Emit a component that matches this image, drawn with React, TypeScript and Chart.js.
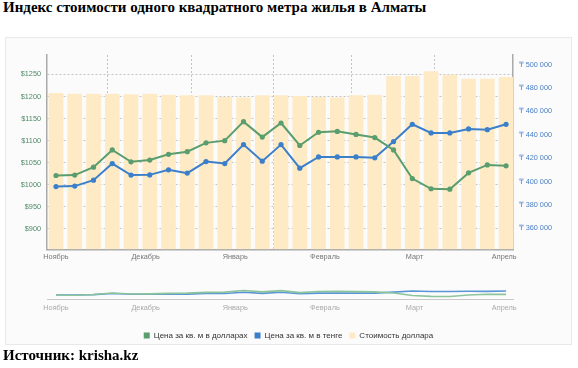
import React, { useEffect, useRef } from "react";
import { Chart, registerables } from "chart.js";

Chart.register(...registerables);

// ---- data ----
const weeks = [0, 1, 2, 3, 4, 5, 6, 7, 8, 9, 10, 11, 12, 13, 14, 15, 16, 17, 18, 19, 20, 21, 22, 23, 24];
const monthLabels = ["Ноябрь", "Декабрь", "Январь", "Февраль", "Март", "Апрель"];
const monthTickPos = [0, 4.78, 9.56, 14.34, 19.12, 23.9];
const gridTickPos = [2.76, 7.2, 11.59, 15.77, 20.16];

const usdPrice = [1021, 1022, 1040, 1079, 1052, 1056, 1069, 1075, 1095, 1100, 1143, 1108, 1140, 1089, 1119, 1121, 1114, 1107, 1079, 1014, 991, 990, 1027, 1045, 1043];
const kztPrice = [395700, 396100, 401200, 415400, 405500, 405700, 410000, 407200, 417100, 415400, 431600, 417400, 431600, 411400, 421100, 421100, 421100, 420300, 434200, 449000, 441600, 441600, 445000, 444400, 449000];
const usdRate = [387.9, 386.1, 386.1, 386.1, 384.4, 386.1, 383.6, 381.9, 381.9, 377.9, 376.2, 381.9, 381.9, 380.4, 377.9, 376.2, 381.9, 383.6, 430.1, 430.1, 441.5, 433.3, 423.3, 423.3, 427.6];

const usdTicks = [900, 950, 1000, 1050, 1100, 1150, 1200, 1250];
const kztTicks = [360000, 380000, 400000, 420000, 440000, 460000, 480000, 500000];

const seriesNames = ["Цена за кв. м в долларах", "Цена за кв. м в тенге", "Стоимость доллара"];

// ---- styles ----
const GREEN = "#5a9d6e";
const BLUE = "#3b7fcb";
const BAR = "#feebc6";
const NAV_GREEN = "#8cc49c";
const NAV_BLUE = "#5a95d8";
const FONT = "'Liberation Sans', 'DejaVu Sans', Arial, sans-serif";
const SERIF = "'Liberation Serif', 'Times New Roman', serif";

const X_MIN = -0.48;
const X_MAX = 24.37;

function fmtKzt(v: number) {
  return "₸ " + String(v).replace(/\B(?=(\d{3})+(?!\d))/g, " ");
}

function xy(arr: number[]) {
  return weeks.map((w, i) => ({ x: w, y: arr[i] }));
}

function MainChart() {
  const ref = useRef<HTMLCanvasElement | null>(null);
  useEffect(() => {
    if (!ref.current) return;
    const chart = new Chart(ref.current, {
      type: "line",
      data: {
        datasets: [
          {
            type: "line",
            label: seriesNames[0],
            data: xy(usdPrice),
            yAxisID: "yUsd",
            borderColor: GREEN,
            backgroundColor: GREEN,
            borderWidth: 2,
            pointRadius: 2.6,
            pointBorderWidth: 0,
            pointBackgroundColor: GREEN,
            order: 1,
          },
          {
            type: "line",
            label: seriesNames[1],
            data: xy(kztPrice),
            yAxisID: "yKzt",
            borderColor: BLUE,
            backgroundColor: BLUE,
            borderWidth: 2,
            pointRadius: 2.6,
            pointBorderWidth: 0,
            pointBackgroundColor: BLUE,
            order: 2,
          },
          {
            type: "bar",
            label: seriesNames[2],
            data: xy(usdRate),
            yAxisID: "yRate",
            backgroundColor: BAR,
            borderWidth: 0,
            barThickness: 14,
            order: 3,
          },
        ] as any,
      },
      options: {
        animation: false,
        responsive: false,
        events: [],
        layout: { padding: { left: 0, right: 0, top: 18, bottom: 7.45 } },
        plugins: {
          tooltip: { enabled: false },
          legend: {
            display: true,
            position: "bottom",
            labels: {
              boxWidth: 6,
              boxHeight: 6,
              padding: 7,
              color: "#333",
              font: { size: 8, family: FONT },
              generateLabels: (c: any) =>
                (Chart.defaults.plugins.legend.labels as any)
                  .generateLabels(c)
                  .map((l: any) => ({ ...l, lineWidth: 0, strokeStyle: "rgba(0,0,0,0)" })),
            },
          },
        },
        scales: {
          x: {
            type: "linear",
            position: "bottom",
            offset: false,
            min: X_MIN,
            max: X_MAX,
            afterBuildTicks: (s: any) => {
              s.ticks = monthTickPos.map((v) => ({ value: v }));
            },
            afterFit: (s: any) => {
              s.height = 75.3;
            },
            ticks: {
              callback: (_v: any, i: number) => monthLabels[i],
              color: "#777",
              font: { size: 7.3, family: FONT },
              padding: 3,
              autoSkip: false,
              maxRotation: 0,
            },
            grid: { display: false, drawTicks: false, offset: false },
            border: { display: true, color: "#aaa", width: 1.5 },
          },
          xg: {
            type: "linear",
            position: "bottom",
            offset: false,
            min: X_MIN,
            max: X_MAX,
            afterBuildTicks: (s: any) => {
              s.ticks = gridTickPos.map((v) => ({ value: v }));
            },
            afterFit: (s: any) => {
              s.height = 0;
            },
            ticks: { display: false },
            grid: { color: "#c4c4c4", lineWidth: 1, drawTicks: false, offset: false },
            border: { display: false, dash: [2, 2] },
          },
          yUsd: {
            position: "left",
            min: 854,
            max: 1294,
            afterBuildTicks: (s: any) => {
              s.ticks = usdTicks.map((v) => ({ value: v }));
            },
            afterFit: (s: any) => {
              s.width = 42;
            },
            ticks: {
              callback: (v: any) => "$" + v,
              color: "#4d8a66",
              font: { size: 7.3, family: FONT },
              padding: 6,
            },
            grid: { color: "#c4c4c4", lineWidth: 1, drawTicks: false },
            border: { display: true, color: "#aaa", width: 1.5, dash: [2, 2] },
          },
          yKzt: {
            position: "right",
            min: 342050,
            max: 508290,
            afterBuildTicks: (s: any) => {
              s.ticks = kztTicks.map((v) => ({ value: v }));
            },
            afterFit: (s: any) => {
              s.width = 59;
            },
            ticks: {
              callback: (v: any) => fmtKzt(v),
              color: "#4a7fc4",
              font: { size: 7.3, family: FONT },
              padding: 6,
            },
            grid: { display: false, drawTicks: false },
            border: { display: true, color: "#aaa", width: 1.5 },
          },
          yRate: {
            display: false,
            min: 0,
            max: 483,
          },
        },
      } as any,
    });
    return () => chart.destroy();
  }, []);
  return (
    <canvas
      ref={ref}
      width={567}
      height={320}
      style={{ position: "absolute", left: 5, top: 37, width: 567, height: 320 }}
    />
  );
}

function NavigatorChart() {
  const ref = useRef<HTMLCanvasElement | null>(null);
  useEffect(() => {
    if (!ref.current) return;
    const chart = new Chart(ref.current, {
      type: "line",
      data: {
        datasets: [
          {
            label: seriesNames[0],
            data: xy(usdPrice),
            yAxisID: "n1",
            borderColor: NAV_GREEN,
            borderWidth: 1.6,
            pointRadius: 0,
          },
          {
            label: seriesNames[1],
            data: xy(kztPrice),
            yAxisID: "n2",
            borderColor: NAV_BLUE,
            borderWidth: 1.6,
            pointRadius: 0,
          },
        ],
      },
      options: {
        animation: false,
        responsive: false,
        events: [],
        layout: { padding: { left: 42, right: 59, top: 13, bottom: 0.5 } },
        plugins: { legend: { display: false }, tooltip: { enabled: false } },
        scales: {
          x: {
            type: "linear",
            offset: false,
            min: X_MIN,
            max: X_MAX,
            afterBuildTicks: (s: any) => {
              s.ticks = monthTickPos.map((v) => ({ value: v }));
            },
            afterFit: (s: any) => {
              s.height = 20;
            },
            ticks: {
              callback: (_v: any, i: number) => monthLabels[i],
              color: "#aaa",
              font: { size: 7.3, family: FONT },
              padding: 4,
              autoSkip: false,
              maxRotation: 0,
            },
            grid: { display: false, drawTicks: false },
            border: { display: true, color: "#c8c8c8", width: 1 },
          },
          n1: { display: false, min: 912, max: 1335 },
          n2: { display: false, min: 335700, max: 555700 },
        },
      } as any,
    });
    return () => chart.destroy();
  }, []);
  return (
    <canvas
      ref={ref}
      width={567}
      height={50}
      style={{ position: "absolute", left: 5, top: 270, width: 567, height: 50 }}
    />
  );
}

export default function App() {
  return (
    <div style={{ position: "absolute", left: 0, top: 0, width: 578, height: 368, background: "#fff", overflow: "hidden" }}>
      <div
        style={{
          position: "absolute",
          left: 3,
          top: 0,
          fontFamily: SERIF,
          fontWeight: "bold",
          fontSize: 15,
          lineHeight: "15px",
          whiteSpace: "nowrap",
          color: "#000",
        }}
      >
        Индекс стоимости одного квадратного метра жилья в Алматы
      </div>
      <div
        style={{
          position: "absolute",
          left: 5,
          top: 37,
          width: 567,
          height: 308,
          boxSizing: "border-box",
          border: "1px solid #e9e9e9",
          background: "#fbfbfb",
        }}
      />
      <MainChart />
      <NavigatorChart />
      <div
        style={{
          position: "absolute",
          left: 3,
          top: 348,
          fontFamily: SERIF,
          fontWeight: "bold",
          fontSize: 15,
          lineHeight: "15px",
          whiteSpace: "nowrap",
          color: "#000",
        }}
      >
        Источник: krisha.kz
      </div>
    </div>
  );
}
